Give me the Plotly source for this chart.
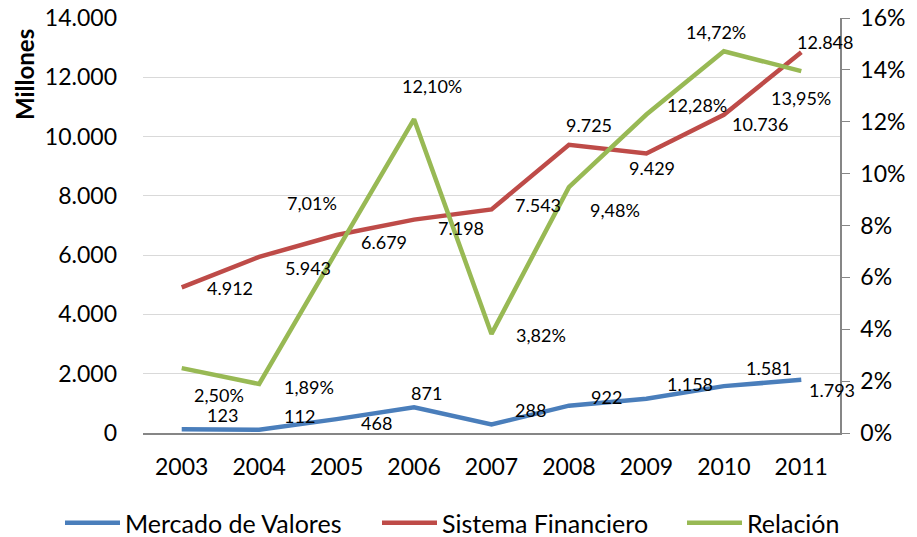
import plotly.graph_objects as go

years = ["2003", "2004", "2005", "2006", "2007", "2008", "2009", "2010", "2011"]
mercado = [123, 112, 468, 871, 288, 922, 1158, 1581, 1793]
sistema = [4912, 5943, 6679, 7198, 7543, 9725, 9429, 10736, 12848]
relacion = [2.50, 1.89, 7.01, 12.10, 3.82, 9.48, 12.28, 14.72, 13.95]

# label pixel offsets (style only)
off_mercado = [(41, 14), (40, 14), (40, -4), (12, 14), (39, 14), (38, 9), (44, 15), (45, 18), (31, -10)]
off_sistema = [(48, -1), (49, -11), (47, -7), (47, -8), (46, 4), (20, 20), (6, -14), (36, -9), (24, 10)]
off_relacion = [(37, -27), (50, -3), (-25, 48), (18, 33), (49, -1), (46, -23), (51, 9), (-8, 19), (0, -27)]

FONT = "Lato"
C_BLUE = "#4A7EBB"
C_RED = "#BE4B48"
C_GREEN = "#98B954"

W, H = 917, 537
L, T, PW, PH = 143, 18, 697, 415
BOTTOM = T + PH

fig = go.Figure()
fig.add_trace(go.Scatter(x=years, y=mercado, mode="lines", name="Mercado de Valores",
                         legend="legend", line=dict(color=C_BLUE, width=4.5)))
fig.add_trace(go.Scatter(x=years, y=sistema, mode="lines", name="Sistema Financiero",
                         legend="legend2", line=dict(color=C_RED, width=4.5)))
fig.add_trace(go.Scatter(x=years, y=relacion, mode="lines", name="Relación", yaxis="y2",
                         legend="legend3", line=dict(color=C_GREEN, width=4.5)))

def fmt_int(v):
    return f"{v:,}".replace(",", ".")

def fmt_pct(v):
    return f"{v:.2f}%".replace(".", ",")

ann = []
for vals, offs, yref, f in [(mercado, off_mercado, "y", fmt_int),
                            (sistema, off_sistema, "y", fmt_int),
                            (relacion, off_relacion, "y2", fmt_pct)]:
    for i, (v, (dx, dy)) in enumerate(zip(vals, offs)):
        ann.append(dict(x=i, y=v, xref="x", yref=yref, text=f(v), showarrow=False,
                        xshift=dx, yshift=dy, font=dict(family=FONT, size=18, color="#000")))

ann.append(dict(text="<b>Millones</b>", x=(25 - L) / PW, y=(BOTTOM - 74) / PH,
                xref="paper", yref="paper", showarrow=False, xanchor="center", yanchor="middle",
                textangle=-90, font=dict(family=FONT, size=24, color="#000")))

def leg(px):
    return dict(orientation="h", x=(px - L) / PW, xanchor="left",
                y=(BOTTOM - 523) / PH, yanchor="middle", itemwidth=55,
                font=dict(family=FONT, size=25, color="#000"), bgcolor="rgba(0,0,0,0)")

fig.update_layout(
    width=W, height=H,
    margin=dict(l=L, r=W - L - PW, t=T, b=H - BOTTOM, autoexpand=False),
    paper_bgcolor="white", plot_bgcolor="white",
    separators=",.",
    font=dict(family=FONT, size=22, color="#000"),
    showlegend=True,
    legend=leg(60),
    legend2=leg(377),
    legend3=leg(682),
    xaxis=dict(type="category", range=[-0.5, 8.5], showgrid=False, showline=True,
               linecolor="#868686", linewidth=1.5, ticks="", ticklabelstandoff=13,
               automargin=False, tickfont=dict(family=FONT, size=23)),
    yaxis=dict(range=[0, 14000], dtick=2000, tickformat=",d", showgrid=True,
               gridcolor="#D9D9D9", gridwidth=1, showline=False, zeroline=False,
               automargin=False, ticklabeloverflow="allow",
               ticks="", ticklabelstandoff=25, tickfont=dict(family=FONT, size=23)),
    yaxis2=dict(range=[0, 16], dtick=2, ticksuffix="%", overlaying="y", side="right",
                showgrid=False, showline=True, linecolor="#868686", linewidth=1.5,
                ticks="outside", ticklen=8, tickcolor="#868686", zeroline=False,
                automargin=False, ticklabeloverflow="allow",
                ticklabelstandoff=6, tickfont=dict(family=FONT, size=23)),
    annotations=ann,
)

fig.write_html("out.html", config={"displayModeBar": False},
               post_script="document.body.style.margin='0';document.body.style.overflow='hidden';")
